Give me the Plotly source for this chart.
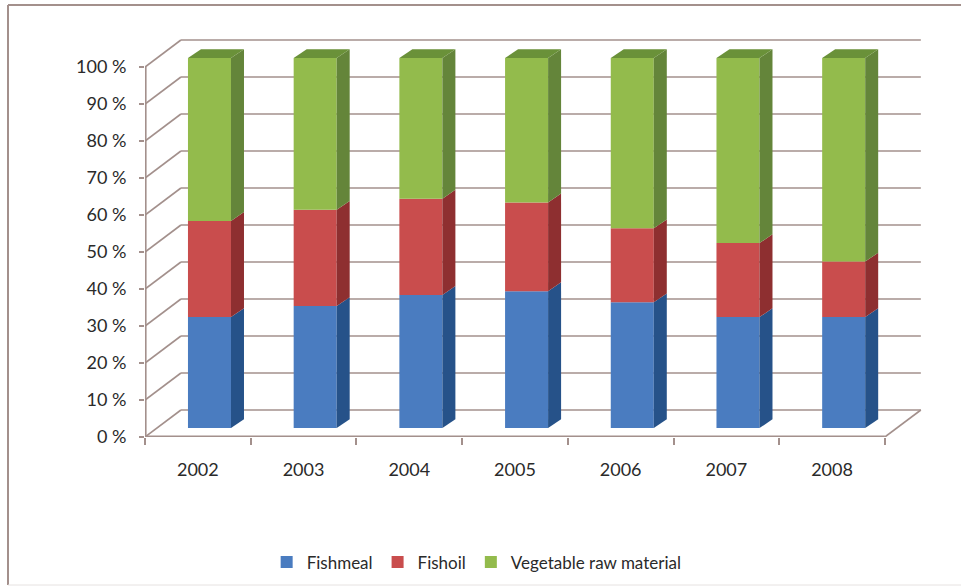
import plotly.graph_objects as go

# Share of raw materials in feed, percent per year
years = ["2002", "2003", "2004", "2005", "2006", "2007", "2008"]
fishmeal = [30, 33, 36, 37, 34, 30, 30]
fishoil = [26, 26, 26, 24, 20, 20, 15]
vegetable = [44, 41, 38, 39, 46, 50, 55]
percent_ticks = [0, 10, 20, 30, 40, 50, 60, 70, 80, 90, 100]
percent_labels = [f"{p} %" for p in percent_ticks]

series = [
    ("Fishmeal", fishmeal, "#4a7cc0", "#265289"),
    ("Fishoil", fishoil, "#c94d4d", "#8e2f30"),
    ("Vegetable raw material", vegetable, "#93bb4c", "#64853a"),
]
TOP_FACE = "#6a9139"
LINE = "#a3908c"
TEXT = "#2a2a2a"
FONT = "Lato"

# Oblique projection of the 3-D look, in axis units
WALL_DX, WALL_DY = 0.34, 7.3      # front plane to back wall
BAR_SHIFT_X, BAR_SHIFT_Y = 0.11, 2.4   # front plane to bar front
SIDE_DX, SIDE_DY = 0.123, 2.4     # bar front to bar back
BAR_WIDTH = 0.407

WIDTH, HEIGHT = 961, 586
LEFT, RIGHT, TOP, BOTTOM = 145, 38, 38, 149
plot_w = WIDTH - LEFT - RIGHT
plot_h = HEIGHT - TOP - BOTTOM
PX_PER_PCT = 3.7
PX_PER_CAT = 105.7
x_range = [-0.5, -0.5 + plot_w / PX_PER_CAT]
y_range = [0, plot_h / PX_PER_PCT]

fig = go.Figure()

# Front faces, stacked, lifted onto the bars' plane
xs = [i + BAR_SHIFT_X for i in range(len(years))]
cumulative = [0] * len(years)
for name, values, front, side in series:
    fig.add_trace(go.Bar(
        x=xs, y=values,
        base=[c + BAR_SHIFT_Y for c in cumulative],
        width=BAR_WIDTH, name=name,
        marker=dict(color=front, line=dict(width=0)),
        customdata=years,
        hovertemplate="%{customdata}: %{y} %<extra>" + name + "</extra>",
    ))
    # Side face of each segment
    for i, v in enumerate(values):
        x0 = xs[i] + BAR_WIDTH / 2
        y0 = cumulative[i] + BAR_SHIFT_Y
        fig.add_trace(go.Scatter(
            x=[x0, x0 + SIDE_DX, x0 + SIDE_DX, x0, x0],
            y=[y0, y0 + SIDE_DY, y0 + v + SIDE_DY, y0 + v, y0],
            mode="lines", fill="toself", fillcolor=side,
            line=dict(width=0), showlegend=False, hoverinfo="skip",
        ))
    cumulative = [c + v for c, v in zip(cumulative, values)]

# Top faces of the stacks
for i, total in enumerate(cumulative):
    xl = xs[i] - BAR_WIDTH / 2
    xr = xs[i] + BAR_WIDTH / 2
    yf = total + BAR_SHIFT_Y
    fig.add_trace(go.Scatter(
        x=[xl, xl + SIDE_DX, xr + SIDE_DX, xr, xl],
        y=[yf, yf + SIDE_DY, yf + SIDE_DY, yf, yf],
        mode="lines", fill="toself", fillcolor=TOP_FACE,
        line=dict(width=0), showlegend=False, hoverinfo="skip",
    ))

# Back-wall grid, floor and side-wall diagonals sit under the bars
shapes = []
def seg(x0, y0, x1, y1, width=1.6):
    shapes.append(dict(type="line", xref="x", yref="y", layer="below",
                       x0=x0, y0=y0, x1=x1, y1=y1,
                       line=dict(color=LINE, width=width)))

x_left, x_right = -0.5, len(years) - 0.5
for p in percent_ticks:
    seg(x_left + WALL_DX, p + WALL_DY, x_right + WALL_DX, p + WALL_DY)
    seg(x_left, p, x_left + WALL_DX, p + WALL_DY)
seg(x_right, 0, x_right + WALL_DX, WALL_DY)
# Front axis lines are half clipped at the plot edge, hence the heavier width
seg(x_left, 0, x_right, 0, 3.2)
seg(x_left, 0, x_left, 100, 3.2)

# Outer chart frame
frame_left = (8 - LEFT) / plot_w
frame_right = (WIDTH - LEFT) / plot_w
frame_top = (HEIGHT - BOTTOM - 5) / plot_h
frame_bottom = (HEIGHT - BOTTOM - 585) / plot_h
for x0, y0, x1, y1, color, w in [
    (frame_left, frame_bottom, frame_left, frame_top, LINE, 2),
    (frame_left, frame_top, frame_right, frame_top, LINE, 2),
    (frame_left, frame_bottom, frame_right, frame_bottom, "#e6e2e1", 1),
]:
    shapes.append(dict(type="line", xref="paper", yref="paper",
                       x0=x0, y0=y0, x1=x1, y1=y1,
                       line=dict(color=color, width=w)))

fig.update_layout(
    width=WIDTH, height=HEIGHT,
    margin=dict(l=LEFT, r=RIGHT, t=TOP, b=BOTTOM, autoexpand=False),
    paper_bgcolor="white", plot_bgcolor="rgba(0,0,0,0)",
    barmode="overlay", shapes=shapes,
    font=dict(family=FONT, color=TEXT),
    xaxis=dict(
        range=x_range, showgrid=False, zeroline=False, showline=False,
        tickmode="array", tickvals=list(range(len(years))), ticktext=years,
        ticks="", ticklabelstandoff=20,
        tickfont=dict(family=FONT, size=18, color=TEXT),
        minor=dict(tickmode="array",
                   tickvals=[i - 0.5 for i in range(len(years) + 1)],
                   ticks="outside", ticklen=7, tickwidth=1.5, tickcolor=LINE,
                   showgrid=False),
    ),
    yaxis=dict(
        range=y_range, showgrid=False, zeroline=False, showline=False,
        tickmode="array", tickvals=percent_ticks, ticktext=percent_labels,
        ticks="outside", ticklen=5, tickwidth=1.5, tickcolor=LINE,
        ticklabelstandoff=9,
        tickfont=dict(family=FONT, size=18, color=TEXT),
    ),
    legend=dict(
        orientation="h", xref="container", yref="container",
        x=0.496, xanchor="center", y=0.04, yanchor="middle",
        font=dict(family=FONT, size=17, color=TEXT),
        traceorder="normal", itemclick=False, itemdoubleclick=False,
    ),
)

fig.write_html("out.html")
